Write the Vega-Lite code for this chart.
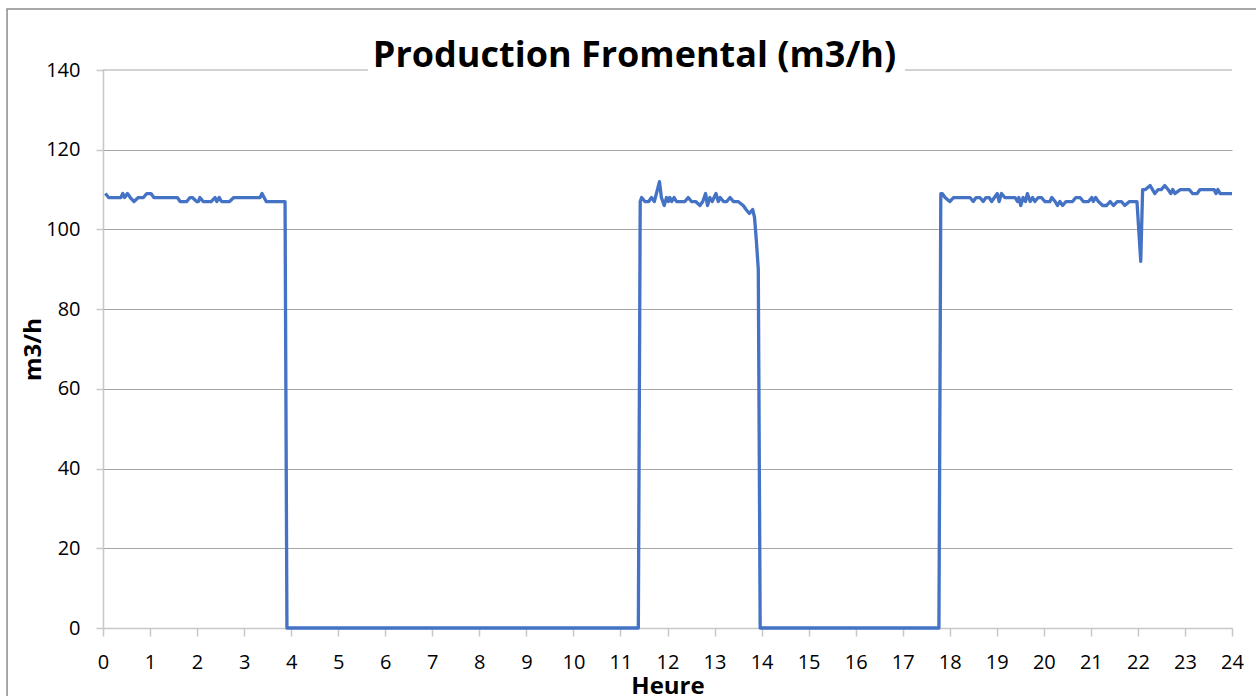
{
  "$schema": "https://vega.github.io/schema/vega-lite/v6.json",
  "autosize": {"type": "none"},
  "width": 1129,
  "height": 558,
  "padding": {"left": 103, "top": 70, "right": 24, "bottom": 68},
  "background": "white",
  "title": {
    "text": "Production Fromental (m3/h)",
    "font": "Open Sans",
    "fontSize": 36,
    "fontWeight": "bold",
    "color": "#000000",
    "anchor": "middle",
    "frame": "group",
    "baseline": "alphabetic",
    "offset": -95,
    "dx": -33
  },
  "config": {
    "view": {"stroke": null},
    "axis": {
      "labelFont": "Open Sans",
      "labelFontSize": 20,
      "labelColor": "#000000",
      "titleFont": "Open Sans",
      "titleFontSize": 24,
      "titleFontWeight": "bold",
      "titleColor": "#000000",
      "domainColor": "#C8C8C8",
      "domainWidth": 1.5,
      "tickColor": "#C8C8C8",
      "tickWidth": 1.5,
      "gridColor": "#A6A6A6",
      "gridWidth": 1
    }
  },
  "datasets": {
    "flow": [
      {"h": 0.05, "v": 109}, {"h": 0.12, "v": 108}, {"h": 0.38, "v": 108}, {"h": 0.42, "v": 109},
      {"h": 0.46, "v": 108}, {"h": 0.52, "v": 109}, {"h": 0.58, "v": 108}, {"h": 0.66, "v": 107},
      {"h": 0.75, "v": 108}, {"h": 0.86, "v": 108}, {"h": 0.93, "v": 109}, {"h": 1.02, "v": 109},
      {"h": 1.08, "v": 108}, {"h": 1.58, "v": 108}, {"h": 1.64, "v": 107}, {"h": 1.78, "v": 107},
      {"h": 1.85, "v": 108}, {"h": 1.9, "v": 108}, {"h": 1.99, "v": 107}, {"h": 2.03, "v": 107},
      {"h": 2.06, "v": 108}, {"h": 2.13, "v": 107}, {"h": 2.3, "v": 107}, {"h": 2.38, "v": 108},
      {"h": 2.42, "v": 107}, {"h": 2.47, "v": 108}, {"h": 2.52, "v": 107}, {"h": 2.69, "v": 107},
      {"h": 2.78, "v": 108}, {"h": 3.34, "v": 108}, {"h": 3.38, "v": 109}, {"h": 3.47, "v": 107},
      {"h": 3.87, "v": 107}, {"h": 3.91, "v": 0},
      {"h": 11.38, "v": 0}, {"h": 11.42, "v": 107}, {"h": 11.45, "v": 108}, {"h": 11.52, "v": 107},
      {"h": 11.6, "v": 107}, {"h": 11.66, "v": 108}, {"h": 11.72, "v": 107}, {"h": 11.83, "v": 112},
      {"h": 11.87, "v": 108}, {"h": 11.93, "v": 106}, {"h": 11.98, "v": 108}, {"h": 12.02, "v": 107},
      {"h": 12.05, "v": 108}, {"h": 12.09, "v": 107}, {"h": 12.14, "v": 108}, {"h": 12.19, "v": 107},
      {"h": 12.37, "v": 107}, {"h": 12.44, "v": 108}, {"h": 12.51, "v": 107}, {"h": 12.6, "v": 107},
      {"h": 12.69, "v": 106}, {"h": 12.75, "v": 107}, {"h": 12.81, "v": 109}, {"h": 12.85, "v": 106},
      {"h": 12.9, "v": 108}, {"h": 12.95, "v": 107}, {"h": 13.03, "v": 109}, {"h": 13.08, "v": 107},
      {"h": 13.12, "v": 108}, {"h": 13.19, "v": 107}, {"h": 13.26, "v": 107}, {"h": 13.33, "v": 108},
      {"h": 13.4, "v": 107}, {"h": 13.5, "v": 107}, {"h": 13.61, "v": 106}, {"h": 13.67, "v": 105},
      {"h": 13.74, "v": 104}, {"h": 13.81, "v": 105}, {"h": 13.85, "v": 103}, {"h": 13.89, "v": 97},
      {"h": 13.93, "v": 90}, {"h": 13.97, "v": 0},
      {"h": 17.77, "v": 0}, {"h": 17.81, "v": 109}, {"h": 17.84, "v": 109}, {"h": 17.9, "v": 108},
      {"h": 18.0, "v": 107}, {"h": 18.08, "v": 108}, {"h": 18.43, "v": 108}, {"h": 18.5, "v": 107},
      {"h": 18.56, "v": 108}, {"h": 18.64, "v": 108}, {"h": 18.71, "v": 107}, {"h": 18.77, "v": 108},
      {"h": 18.84, "v": 108}, {"h": 18.89, "v": 107}, {"h": 18.95, "v": 108}, {"h": 19.01, "v": 109},
      {"h": 19.05, "v": 107}, {"h": 19.1, "v": 109}, {"h": 19.17, "v": 108}, {"h": 19.39, "v": 108},
      {"h": 19.44, "v": 107}, {"h": 19.47, "v": 108}, {"h": 19.51, "v": 106}, {"h": 19.56, "v": 108},
      {"h": 19.61, "v": 107}, {"h": 19.65, "v": 109}, {"h": 19.71, "v": 107}, {"h": 19.76, "v": 108},
      {"h": 19.81, "v": 107}, {"h": 19.88, "v": 108}, {"h": 19.95, "v": 108}, {"h": 20.02, "v": 107},
      {"h": 20.13, "v": 107}, {"h": 20.17, "v": 108}, {"h": 20.24, "v": 107}, {"h": 20.29, "v": 106},
      {"h": 20.34, "v": 107}, {"h": 20.4, "v": 106}, {"h": 20.47, "v": 107}, {"h": 20.61, "v": 107},
      {"h": 20.68, "v": 108}, {"h": 20.77, "v": 108}, {"h": 20.84, "v": 107}, {"h": 20.95, "v": 107},
      {"h": 21.02, "v": 108}, {"h": 21.05, "v": 107}, {"h": 21.1, "v": 108}, {"h": 21.16, "v": 107},
      {"h": 21.25, "v": 106}, {"h": 21.33, "v": 106}, {"h": 21.41, "v": 107}, {"h": 21.48, "v": 106},
      {"h": 21.56, "v": 107}, {"h": 21.65, "v": 107}, {"h": 21.72, "v": 106}, {"h": 21.82, "v": 107},
      {"h": 21.98, "v": 107}, {"h": 22.06, "v": 92}, {"h": 22.1, "v": 110}, {"h": 22.16, "v": 110},
      {"h": 22.26, "v": 111}, {"h": 22.36, "v": 109}, {"h": 22.43, "v": 110}, {"h": 22.5, "v": 110},
      {"h": 22.57, "v": 111}, {"h": 22.64, "v": 110}, {"h": 22.7, "v": 109}, {"h": 22.74, "v": 110},
      {"h": 22.79, "v": 109}, {"h": 22.9, "v": 110}, {"h": 23.09, "v": 110}, {"h": 23.16, "v": 109},
      {"h": 23.26, "v": 109}, {"h": 23.32, "v": 110}, {"h": 23.62, "v": 110}, {"h": 23.66, "v": 109},
      {"h": 23.7, "v": 110}, {"h": 23.75, "v": 109}, {"h": 24.0, "v": 109}
    ],
    "topgrid": [
      {"start": 0, "end": 5.63},
      {"start": 17.05, "end": 24}
    ]
  },
  "layer": [
    {
      "data": {"values": [{"frame": "chart"}]},
      "mark": {"type": "rect", "fill": null, "stroke": "#8C8C8C", "strokeWidth": 1.5, "clip": false},
      "encoding": {
        "x": {"datum": -2.04, "type": "quantitative"},
        "x2": {"datum": 26},
        "y": {"datum": 155.3, "type": "quantitative"},
        "y2": {"datum": -40}
      }
    },
    {
      "data": {"name": "topgrid"},
      "mark": {"type": "rule", "color": "#A6A6A6", "strokeWidth": 1},
      "encoding": {
        "x": {"field": "start", "type": "quantitative"},
        "x2": {"field": "end"},
        "y": {"datum": 140, "type": "quantitative"}
      }
    },
    {
      "data": {"name": "flow"},
      "mark": {"type": "line", "color": "#4472C4", "strokeWidth": 3.3, "strokeJoin": "round"},
      "encoding": {
        "x": {
          "field": "h",
          "type": "quantitative",
          "scale": {"domain": [0, 24], "nice": false, "zero": false},
          "axis": {
            "values": [0,1,2,3,4,5,6,7,8,9,10,11,12,13,14,15,16,17,18,19,20,21,22,23,24],
            "grid": false,
            "tickSize": 8,
            "labelPadding": 16,
            "labelFlush": false,
            "labelOverlap": false,
            "title": "Heure",
            "titlePadding": 2
          }
        },
        "y": {
          "field": "v",
          "type": "quantitative",
          "scale": {"domain": [0, 140], "nice": false},
          "axis": {
            "values": [0,20,40,60,80,100,120,140],
            "grid": true,
            "gridOpacity": {"condition": {"test": "datum.value === 140", "value": 0}, "value": 1},
            "tickSize": 7,
            "labelPadding": 16,
            "title": "m3/h",
            "titlePadding": 0
          }
        }
      }
    }
  ]
}
